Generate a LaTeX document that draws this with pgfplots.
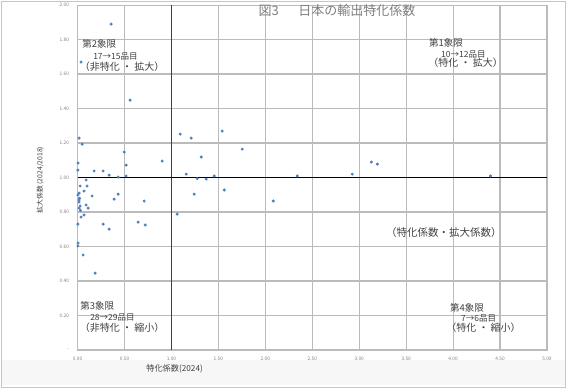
\documentclass[border=0pt]{standalone}
\usepackage{pgfplots}
\pgfplotsset{compat=1.18}
\usepackage{fontspec}
\setmainfont{Noto Sans CJK JP}
\definecolor{ptblue}{HTML}{4A7EBB}
\definecolor{txtgray}{HTML}{404040}
\definecolor{lblgray}{HTML}{7F7F7F}
\definecolor{gridc}{HTML}{BBBBBB}
\begin{document}
\begin{tikzpicture}
\begin{axis}[
  scale only axis, width=469.5pt, height=345pt,
  xmin=0, xmax=5, ymin=0, ymax=2,
  xtick={0,0.5,1,1.5,2,2.5,3,3.5,4,4.5,5},
  xticklabels={0.00,0.50,1.00,1.50,2.00,2.50,3.00,3.50,4.00,4.50,5.00},
  ytick={0,0.2,0.4,0.6,0.8,1,1.2,1.4,1.6,1.8,2},
  yticklabels={-,0.20,0.40,0.60,0.80,1.00,1.20,1.40,1.60,1.80,2.00},
  xmajorgrids=true, ymajorgrids=true,
  major grid style={draw=gridc, line width=1.2pt},
  axis line style={draw=gridc, line width=1.2pt},
  major tick length=0pt,
  ticklabel style={font=\fontsize{4.8}{5}\selectfont, text=lblgray},
  xticklabel style={yshift=-3pt},
  yticklabel style={xshift=-5pt},
  unbounded coords=jump,
  clip=false,
]
% background frame
\path[use as bounding box] (axis cs:-0.8265,2.0290) rectangle (axis cs:5.2131,-0.2203);
\fill[gray!6] (axis cs:-0.80,-0.06) rectangle (axis cs:5.19,-0.205);
\draw[gray!45,line width=1pt] (axis cs:-0.8158,2.0232) rectangle (axis cs:5.2024,-0.2145);
% grid lines
\addplot[gridc, line width=1.2pt, forget plot] coordinates {
(0,0) (0,2) (0,nan) (0.5,0) (0.5,2) (0.5,nan) (1.5,0) (1.5,2) (1.5,nan)
(2,0) (2,2) (2,nan) (2.5,0) (2.5,2) (2.5,nan) (3,0) (3,2) (3,nan)
(3.5,0) (3.5,2) (3.5,nan) (4,0) (4,2) (4,nan) (4.5,0) (4.5,2) (4.5,nan)
(5,0) (5,2) (5,nan)
(0,0) (5,0) (5,nan) (0,0.2) (5,0.2) (5,nan) (0,0.4) (5,0.4) (5,nan)
(0,0.6) (5,0.6) (5,nan) (0,0.8) (5,0.8) (5,nan) (0,1.2) (5,1.2) (5,nan)
(0,1.4) (5,1.4) (5,nan) (0,1.6) (5,1.6) (5,nan) (0,1.8) (5,1.8) (5,nan)
(0,2) (5,2)
};
\addplot[only marks, mark=*, mark size=1.3pt, color=ptblue] coordinates {
(0.357,1.890) (0.037,1.670) (0.560,1.449) (0.016,1.229) (0.048,1.194)
(0.496,1.148) (0.901,1.096) (0.005,1.084) (0.517,1.072) (0.003,1.043)
(0.176,1.038) (0.272,1.038) (0.336,1.014) (0.432,1.003) (0.517,1.009)
(1.093,1.252) (1.210,1.229) (1.540,1.270) (1.754,1.165) (1.317,1.119)
(1.157,1.020) (1.455,1.009) (2.340,1.009) (2.926,1.020) (3.129,1.090)
(3.193,1.078) (4.398,1.009)
(1.274,0.994) (1.370,0.991) (1.242,0.904) (1.562,0.928) (2.084,0.864) (1.061,0.788)
(0.091,0.986) (0.027,0.951) (0.101,0.951) (0.069,0.922) (0.016,0.910)
(0.003,0.899) (0.155,0.893) (0.432,0.904) (0.016,0.870) (0.389,0.875)
(0.709,0.864) (0.016,0.858) (0.027,0.835) (0.091,0.841) (0.016,0.823)
(0.112,0.823) (0.069,0.783) (0.037,0.771) (0.003,0.730) (0.272,0.730)
(0.645,0.742) (0.720,0.725) (0.336,0.701) (0.005,0.620) (0.003,0.603)
(0.059,0.551) (0.187,0.446) (0.020,0.880) (0.030,0.810)
};
\addplot[color=txtgray, line width=1.2pt] coordinates {(1,0) (1,2)};
\addplot[color=black, line width=1.2pt] coordinates {(0,1) (5,1)};
% title
\node[text=lblgray, font=\fontsize{13}{14}\selectfont] at (axis cs:2.763,1.971) {図3\hspace{1.5em}日本の輸出特化係数};
% axis labels
\node[text=txtgray, font=\fontsize{8.2}{9}\selectfont] at (axis cs:1.033,-0.110) {特化係数(2024)};
\node[text=txtgray, font=\fontsize{6.8}{7}\selectfont, rotate=90] at (axis cs:-0.399,0.986) {拡大係数 (2024/2018)};
% quadrant annotations
\begin{scope}[every node/.style={text=txtgray, font=\fontsize{9.5}{10}\selectfont, anchor=west, inner sep=0pt}]
\node at (axis cs:0.048,1.774) {第2象限};
\node[font=\fontsize{8.5}{9}\selectfont] at (axis cs:0.165,1.704) {17→15品目};
\node[font=\fontsize{10}{11}\selectfont] at (axis cs:0.022,1.641) {（非特化 ・ 拡大）};
\node at (axis cs:3.743,1.780) {第1象限};
\node[font=\fontsize{8.5}{9}\selectfont] at (axis cs:3.871,1.716) {10→12品目};
\node[font=\fontsize{10}{11}\selectfont] at (axis cs:3.735,1.664) {（特化 ・ 拡大）};
\node at (axis cs:0.027,0.255) {第3象限};
\node[font=\fontsize{8.5}{9}\selectfont] at (axis cs:0.133,0.191) {28→29品目};
\node[font=\fontsize{10}{11}\selectfont] at (axis cs:0.022,0.128) {（非特化 ・ 縮小）};
\node at (axis cs:3.967,0.243) {第4象限};
\node[font=\fontsize{8.5}{9}\selectfont] at (axis cs:4.084,0.186) {7→6品目};
\node[font=\fontsize{10}{11}\selectfont] at (axis cs:3.925,0.128) {（特化 ・ 縮小）};
\node[font=\fontsize{10.5}{11}\selectfont] at (axis cs:3.285,0.684) {（特化係数・拡大係数）};
\end{scope}
\end{axis}
\end{tikzpicture}
\end{document}
